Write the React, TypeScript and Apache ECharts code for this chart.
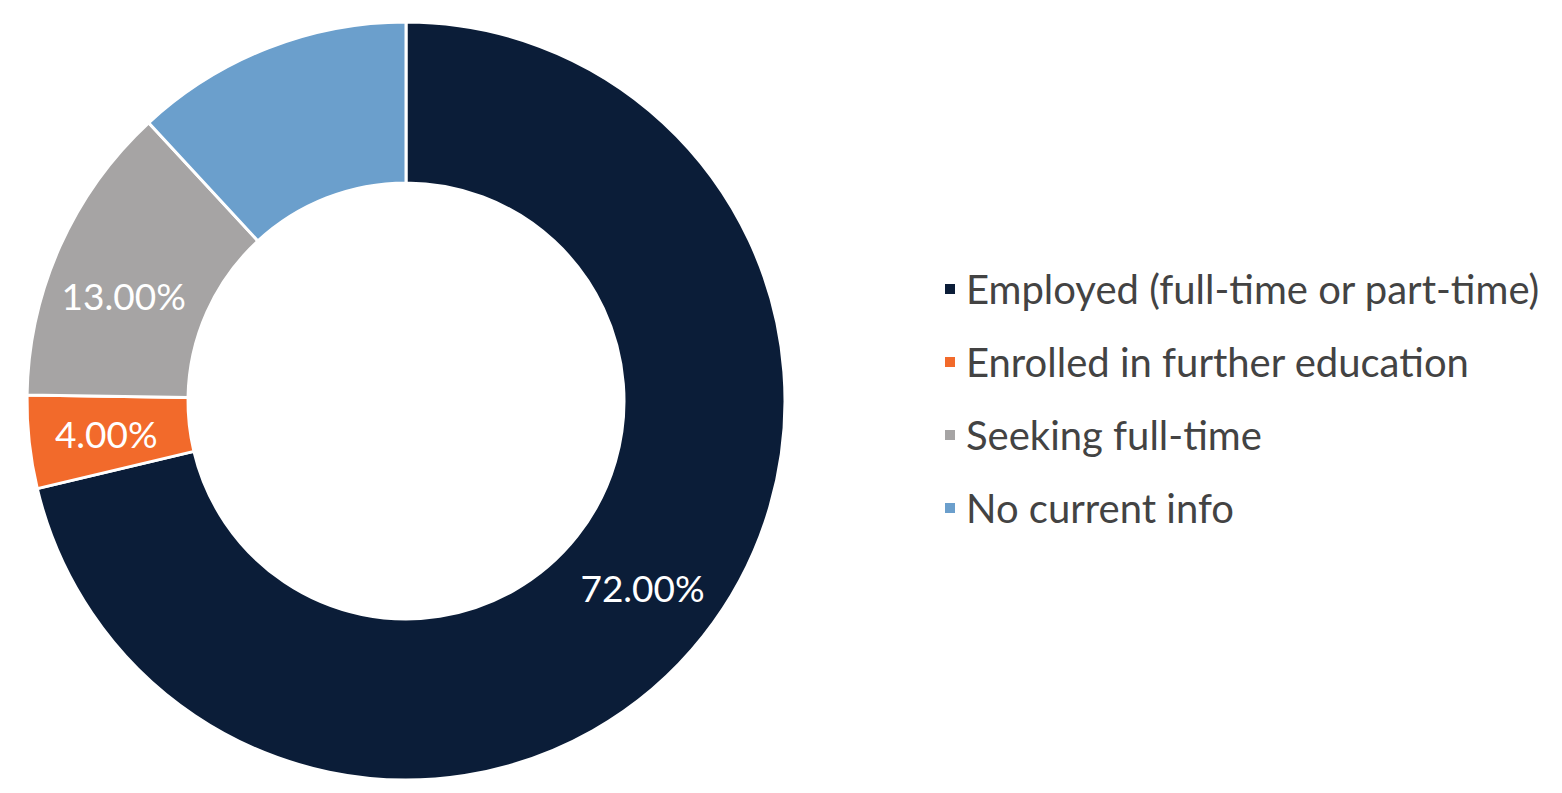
import React, { useEffect, useRef } from "react";
import * as echarts from "echarts";

const categories = [
  "Employed (full-time or part-time)",
  "Enrolled in further education",
  "Seeking full-time",
  "No current info",
];
const values = [72, 4, 13, 12];
const colors = ["#0b1d38", "#f26a2b", "#a6a4a4", "#6b9fcc"];
const showLabel = [true, true, true, false];

export default function App() {
  const ref = useRef<HTMLDivElement>(null);
  useEffect(() => {
    if (!ref.current) return;
    const chart = echarts.init(ref.current, null, { renderer: "svg" });
    chart.setOption({
      animation: false,
      backgroundColor: "#ffffff",
      legend: {
        orient: "vertical",
        left: 938,
        top: 264,
        icon: "rect",
        itemWidth: 12,
        itemHeight: 12,
        itemGap: 33,
        data: categories,
        textStyle: {
          fontFamily: "Lato",
          fontSize: 40,
          color: "#434343",
          lineHeight: 40,
          padding: [0, 0, 0, 5],
        },
      },
      series: [
        {
          type: "pie",
          center: [406, 401],
          radius: [218, 379],
          startAngle: 90,
          clockwise: true,
          itemStyle: { borderColor: "#ffffff", borderWidth: 3 },
          label: {
            show: true,
            position: "inside",
            formatter: (p: any) => p.value.toFixed(2) + "%",
            color: "#ffffff",
            fontFamily: "Lato",
            fontSize: 37,
          },
          labelLine: { show: false },
          emphasis: { disabled: true },
          data: categories.map((c, i) => ({
            name: c,
            value: values[i],
            itemStyle: { color: colors[i] },
            label: i === 2 ? { show: showLabel[i], offset: [-7, 17] } : { show: showLabel[i] },
          })),
        },
      ],
    });
    return () => chart.dispose();
  }, []);
  return (
    <div
      ref={ref}
      style={{ position: "absolute", left: 0, top: 0, width: 1562, height: 793 }}
    />
  );
}
